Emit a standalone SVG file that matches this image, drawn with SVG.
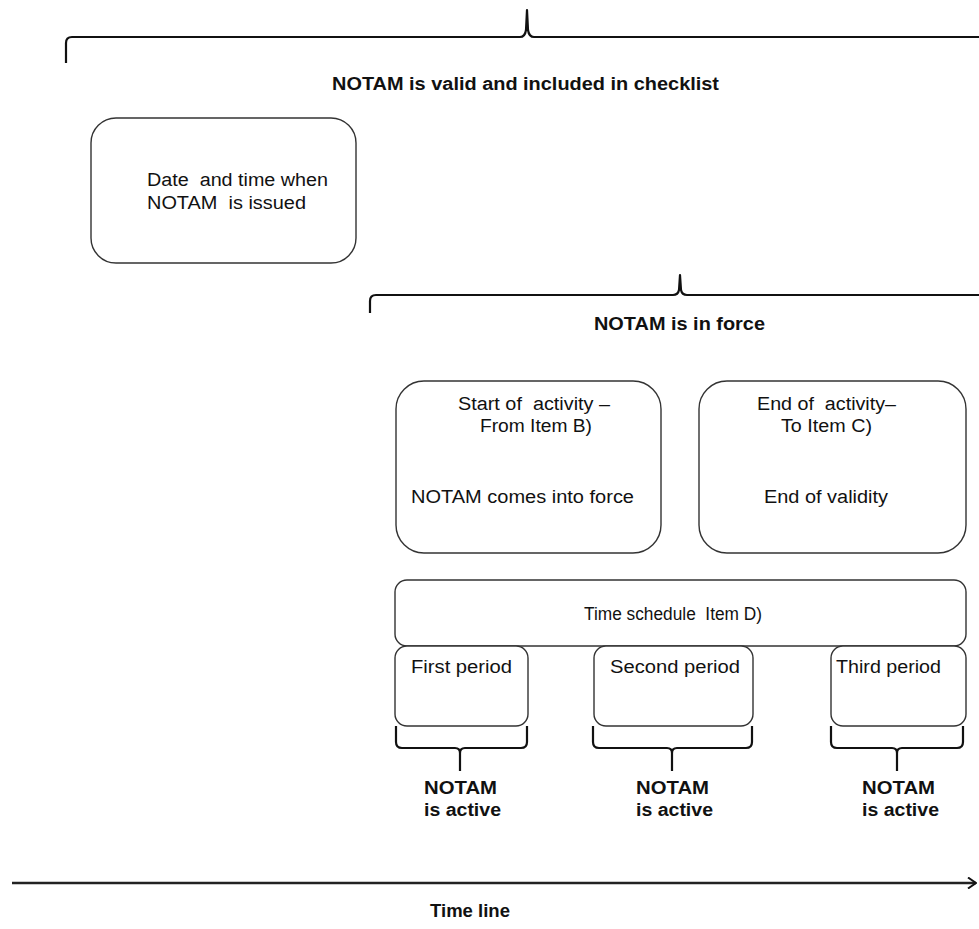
<svg xmlns="http://www.w3.org/2000/svg" width="979" height="929" viewBox="0 0 979 929">
  <defs>
    <style>
      text { font-family: "Liberation Sans Narrow", "Liberation Sans", Arial, sans-serif; fill: #111; white-space: pre; }
      .lbl { font-size: 18px; }
      .bold { font-size: 18px; font-weight: bold; }
      .box { fill: #fff; stroke: #333; stroke-width: 1.4; }
      .brace { fill: none; stroke: #111; stroke-width: 2.2; stroke-linejoin: round; }
      .axis { fill: none; stroke: #222; stroke-width: 2.6; }
    </style>
    <marker id="chevron" viewBox="0 0 10 12" refX="9" refY="6" markerWidth="10" markerHeight="12" markerUnits="userSpaceOnUse" orient="auto">
      <path d="M1 0.5 L9 6 L1 11.5" fill="none" stroke="#111" stroke-width="2"/>
    </marker>
  </defs>

  <!-- Braces and time axis -->
  <g id="connectors">
    <path class="brace" d="M66 63 L66 43 Q66 37 72 37 L520 37 Q525 37 526 30 L527 10 L528 30 Q529 37 534 37 L985 37"/>
    <path class="brace" d="M370 313 L370 301 Q370 295 376 295 L673 295 Q678 295 679 290 L680 275 L681 290 Q682 295 687 295 L985 295"/>
    <path class="brace" d="M396 726 L396 742 Q396 748 402 748 L455 748 Q460 748 460 753 L460 771 M460 753 Q460 748 465 748 L521 748 Q527 748 527 742 L527 726"/>
    <path class="brace" d="M593 726 L593 742 Q593 748 599 748 L667 748 Q672 748 672 753 L672 771 M672 753 Q672 748 677 748 L746 748 Q752 748 752 742 L752 726"/>
    <path class="brace" d="M831 726 L831 742 Q831 748 837 748 L892 748 Q897 748 897 753 L897 771 M897 753 Q897 748 902 748 L957 748 Q963 748 963 742 L963 726"/>
    <line class="axis" x1="12" y1="883" x2="976" y2="883" marker-end="url(#chevron)"/>
  </g>

  <g id="label-valid">
    <text class="bold" x="332" y="90" textLength="387" lengthAdjust="spacingAndGlyphs">NOTAM is valid and included in checklist</text>
  </g>

  <g id="node-issued">
    <rect class="box" x="91" y="118" width="265" height="145" rx="25"/>
    <text class="lbl" x="147" y="186" textLength="181" lengthAdjust="spacingAndGlyphs">Date  and time when</text>
    <text class="lbl" x="147" y="209" textLength="159" lengthAdjust="spacingAndGlyphs">NOTAM  is issued</text>
  </g>

  <g id="label-in-force">
    <text class="bold" x="594" y="330" textLength="171" lengthAdjust="spacingAndGlyphs">NOTAM is in force</text>
  </g>

  <g id="node-start">
    <rect class="box" x="396" y="381" width="265" height="172" rx="28"/>
    <text class="lbl" x="458" y="410" textLength="152" lengthAdjust="spacingAndGlyphs">Start of  activity –</text>
    <text class="lbl" x="480" y="432" textLength="112" lengthAdjust="spacingAndGlyphs">From Item B)</text>
    <text class="lbl" x="411" y="503" textLength="223" lengthAdjust="spacingAndGlyphs">NOTAM comes into force</text>
  </g>

  <g id="node-end">
    <rect class="box" x="699" y="381" width="267" height="172" rx="28"/>
    <text class="lbl" x="757" y="410" textLength="139" lengthAdjust="spacingAndGlyphs">End of  activity–</text>
    <text class="lbl" x="781" y="432" textLength="91" lengthAdjust="spacingAndGlyphs">To Item C)</text>
    <text class="lbl" x="764" y="503" textLength="124" lengthAdjust="spacingAndGlyphs">End of validity</text>
  </g>

  <g id="node-schedule">
    <rect class="box" x="395" y="580" width="571" height="66" rx="12"/>
    <text class="lbl" x="584" y="620" textLength="178" lengthAdjust="spacingAndGlyphs">Time schedule  Item D)</text>
  </g>

  <g id="node-first">
    <rect class="box" x="395" y="646" width="133" height="80" rx="12"/>
    <text class="lbl" x="411" y="673" textLength="101" lengthAdjust="spacingAndGlyphs">First period</text>
  </g>
  <g id="node-second">
    <rect class="box" x="594" y="646" width="159" height="80" rx="12"/>
    <text class="lbl" x="610" y="673" textLength="130" lengthAdjust="spacingAndGlyphs">Second period</text>
  </g>
  <g id="node-third">
    <rect class="box" x="831" y="646" width="135" height="80" rx="12"/>
    <text class="lbl" x="836" y="673" textLength="105" lengthAdjust="spacingAndGlyphs">Third period</text>
  </g>

  <g id="label-active-1">
    <text class="bold" x="424" y="794" textLength="73" lengthAdjust="spacingAndGlyphs">NOTAM</text>
    <text class="bold" x="424" y="816" textLength="77" lengthAdjust="spacingAndGlyphs">is active</text>
  </g>
  <g id="label-active-2">
    <text class="bold" x="636" y="794" textLength="73" lengthAdjust="spacingAndGlyphs">NOTAM</text>
    <text class="bold" x="636" y="816" textLength="77" lengthAdjust="spacingAndGlyphs">is active</text>
  </g>
  <g id="label-active-3">
    <text class="bold" x="862" y="794" textLength="73" lengthAdjust="spacingAndGlyphs">NOTAM</text>
    <text class="bold" x="862" y="816" textLength="77" lengthAdjust="spacingAndGlyphs">is active</text>
  </g>

  <g id="label-timeline">
    <text class="bold" x="430" y="917" textLength="80" lengthAdjust="spacingAndGlyphs">Time line</text>
  </g>
</svg>
